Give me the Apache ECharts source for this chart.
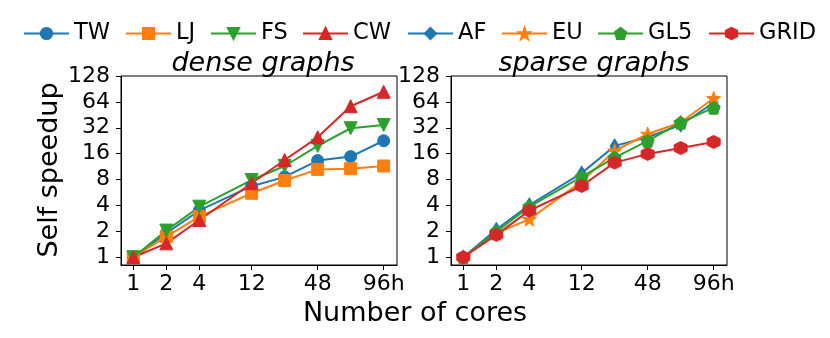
<!DOCTYPE html>
<html><head><meta charset="utf-8">
<script src="https://cdn.jsdelivr.net/npm/echarts@6/dist/echarts.min.js"></script>
<style>html,body{margin:0;padding:0;background:#fff}#c{width:830px;height:338px}</style>
</head><body><div id="c"></div>
<script>
const cores = [1, 2, 4, 12, 24, 48, 96, 192];
const xTicks = [1, 2, 4, 12, 48, 192];
const xTickLabels = ['1', '2', '4', '12', '48', '96h'];
const yTicks = [1, 2, 4, 8, 16, 32, 64, 128];
const names = ['TW', 'LJ', 'FS', 'CW', 'AF', 'EU', 'GL5', 'GRID'];

const TW  = [1, 1.9, 3.5, 6.7, 8.6, 13.3, 14.8, 22.6];
const LJ  = [1, 1.74, 2.97, 5.55, 7.8, 10.5, 10.7, 11.5];
const FS  = [1, 2.04, 3.87, 7.9, 11.5, 19.7, 31.6, 34.5];
const CW  = [1, 1.45, 2.71, 7.25, 13.5, 24.8, 57, 84];
const AF  = [1, 2.1, 4.05, 9.5, 19.7, 24.8, 34.5, 62.6];
const EU  = [1, 1.9, 2.77, 7.57, 17.3, 27.1, 36.8, 70.5];
const GL5 = [1, 1.98, 3.87, 8.6, 14.4, 22.5, 36.8, 54.8];
const GRID= [1, 1.82, 3.48, 6.73, 12.6, 15.9, 18.6, 21.9];

const C = {blue:'#1f77b4', orange:'#ff7f0e', green:'#2ca02c', red:'#d62728'};
const STAR = 'path://M0,-10 L2.35,-3.24 L9.51,-3.09 L3.8,1.24 L5.88,8.09 L0,4 L-5.88,8.09 L-3.8,1.24 L-9.51,-3.09 L-2.35,-3.24 Z';
const PENT = 'path://M0,-10 L9.51,-3.09 L5.88,8.09 L-5.88,8.09 L-9.51,-3.09 Z';
const HEX = 'path://M0,-10 L8.66,-5 L8.66,5 L0,10 L-8.66,5 L-8.66,-5 Z';
const FONT = 'DejaVu Sans';

function mk(name, vals, color, symbol, idx, size, rot) {
  return {
    name, type: 'line', xAxisIndex: idx, yAxisIndex: idx,
    data: cores.map((c, i) => [c, vals[i]]),
    color, symbol, symbolSize: size || 12, symbolRotate: rot || 0,
    showSymbol: true, showAllSymbol: true,
    lineStyle: {width: 2, color},
    itemStyle: {color, borderColor: color, borderWidth: 1, opacity: 1},
    emphasis: {disabled: true}, animation: false, z: 3
  };
}

function xAx(idx) {
  return {
    type: 'log', logBase: 2, gridIndex: idx, min: 0.772, max: 254,
    axisLine: {show: true, lineStyle: {color: '#000', width: 1}},
    axisTick: {show: true, inside: false, length: 5, customValues: xTicks, lineStyle: {color: '#000'}},
    axisLabel: {customValues: xTicks, color: '#000', fontFamily: FONT, fontSize: 22, margin: 8,
      formatter: v => { const i = xTicks.findIndex(t => Math.abs(t - v) < 1e-6); return i >= 0 ? xTickLabels[i] : ''; }},
    splitLine: {show: false}
  };
}
function yAx(idx) {
  return {
    type: 'log', logBase: 2, gridIndex: idx, min: Math.pow(2, -0.3), max: 128,
    axisLine: {show: true, lineStyle: {color: '#000', width: 1}},
    axisTick: {show: true, inside: false, length: 5, customValues: yTicks, lineStyle: {color: '#000'}},
    axisLabel: {customValues: yTicks, color: '#000', fontFamily: FONT, fontSize: 22, margin: 11,
      formatter: v => String(Math.round(v))},
    splitLine: {show: false}
  };
}

const legendLefts = [18, 120, 205, 297, 402, 496, 592, 703];
const legends = names.map((n, i) => ({
  data: [n], left: legendLefts[i], top: 17, itemWidth: 45, itemHeight: 14, itemGap: 0,
  textStyle: {fontSize: 22.5, color: '#000', fontFamily: FONT}
}));

const chart = echarts.init(document.getElementById('c'), null, {renderer: 'canvas'});
chart.setOption({
  backgroundColor: '#fff',
  animation: false,
  textStyle: {fontFamily: FONT},
  legend: legends,
  title: [
    {text: 'dense graphs', left: 258, top: 45, textAlign: 'center',
     textStyle: {fontSize: 27, fontStyle: 'italic', fontWeight: 'normal', color: '#000', fontFamily: FONT}},
    {text: 'sparse graphs', left: 589, top: 45, textAlign: 'center',
     textStyle: {fontSize: 27, fontStyle: 'italic', fontWeight: 'normal', color: '#000', fontFamily: FONT}}
  ],
  graphic: [
    {type: 'text', x: 415, y: 314, style: {text: 'Number of cores', font: '27px "DejaVu Sans"', fill: '#000', align: 'center', verticalAlign: 'middle'}},
    {type: 'text', x: 50, y: 170, rotation: Math.PI / 2, style: {text: 'Self speedup', font: '27px "DejaVu Sans"', fill: '#000', align: 'center', verticalAlign: 'middle'}}
  ],
  grid: [
    {left: 121, right: 433, top: 76, bottom: 73, show: true, borderColor: '#000', borderWidth: 1, backgroundColor: 'transparent'},
    {left: 451, right: 103, top: 76, bottom: 73, show: true, borderColor: '#000', borderWidth: 1, backgroundColor: 'transparent'}
  ],
  xAxis: [xAx(0), xAx(1)],
  yAxis: [yAx(0), yAx(1)],
  series: [
    mk('TW', TW, C.blue, 'circle', 0, 12),
    mk('LJ', LJ, C.orange, 'rect', 0, 12),
    mk('FS', FS, C.green, 'triangle', 0, 13, 180),
    mk('CW', CW, C.red, 'triangle', 0, 13),
    mk('AF', AF, C.blue, 'diamond', 1, [9, 14]),
    mk('EU', EU, C.orange, STAR, 1, 14),
    mk('GL5', GL5, C.green, PENT, 1, 13),
    mk('GRID', GRID, C.red, HEX, 1, 13)
  ]
});
</script>
</body></html>
